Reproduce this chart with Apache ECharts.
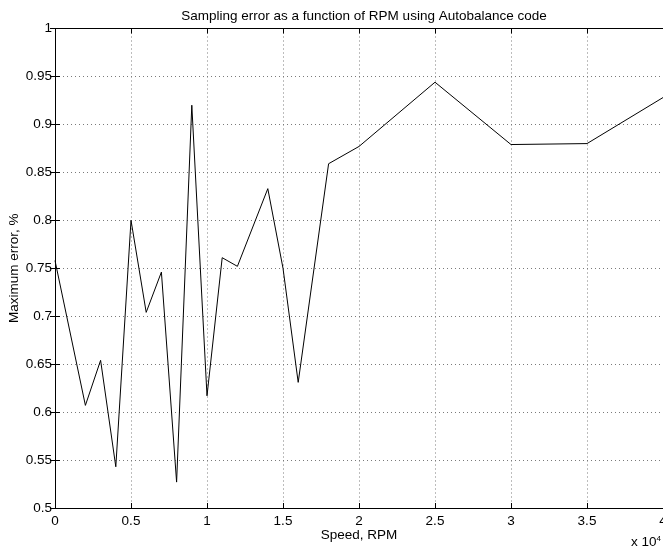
<!DOCTYPE html>
<html>
<head>
<meta charset="utf-8">
<script src="https://cdn.jsdelivr.net/npm/echarts@6/dist/echarts.min.js"></script>
<style>
    html, body {margin: 0; padding: 0; background: #fff;}
    #main {width: 663px; height: 550px;}
</style>
</head>
<body>
<div id="main"></div>
<script>
    // speed in units of 10^4 RPM
    var speeds = [0, 0.2, 0.3, 0.4, 0.5, 0.6, 0.7, 0.8, 0.9, 1.0, 1.1, 1.2, 1.4, 1.5, 1.6, 1.8, 2.0, 2.5, 3.0, 3.5, 4.0];
    // maximum error, %
    var maxError = [0.758, 0.607, 0.654, 0.543, 0.800, 0.704, 0.746, 0.527, 0.920, 0.617, 0.761, 0.752, 0.833, 0.750, 0.631, 0.859, 0.877, 0.944, 0.879, 0.880, 0.928];

    var titleText = 'Sampling error as a function of RPM using Autobalance code';
    var xName = 'Speed, RPM';
    var yName = 'Maximum error, %';

    var font = "'Liberation Sans', Arial, sans-serif";
    var fs = 13.5;

    var points = speeds.map(function (s, i) {
        return [s, maxError[i]];
    });

    var gridDots = {
        show: true,
        lineStyle: {color: '#7a7a7a', width: 1, type: [1, 3]}
    };
    var boxLine = {show: true, lineStyle: {color: '#000', width: 1}};
    var inTick = {show: true, inside: true, length: 5, lineStyle: {color: '#000'}};

    var chart = echarts.init(document.getElementById('main'));
    chart.setOption({
        animation: false,
        backgroundColor: '#fff',
        title: {
            text: titleText,
            left: 359,
            top: 4,
            textAlign: 'center',
            textStyle: {fontFamily: font, fontSize: fs, fontWeight: 'normal', color: '#000'}
        },
        grid: {left: 55, right: 0, top: 28.5, bottom: 42, containLabel: false, outerBoundsMode: 'none'},
        xAxis: [{
            type: 'value',
            min: 0,
            max: 4,
            interval: 0.5,
            name: xName,
            nameLocation: 'middle',
            nameGap: 20,
            nameMoveOverlap: false,
            nameTextStyle: {fontFamily: font, fontSize: fs, color: '#000'},
            axisLine: boxLine,
            axisTick: inTick,
            axisLabel: {fontFamily: font, fontSize: fs, color: '#000', margin: 6},
            splitLine: gridDots
        }, {
            type: 'value',
            position: 'top',
            min: 0,
            max: 4,
            interval: 0.5,
            axisLine: boxLine,
            axisTick: inTick,
            axisLabel: {show: false},
            splitLine: {show: false}
        }],
        yAxis: [{
            type: 'value',
            min: 0.5,
            max: 1,
            interval: 0.05,
            name: yName,
            nameLocation: 'middle',
            nameGap: 34,
            nameMoveOverlap: false,
            nameTextStyle: {fontFamily: font, fontSize: fs, color: '#000'},
            axisLine: boxLine,
            axisTick: inTick,
            axisLabel: {fontFamily: font, fontSize: fs, color: '#000', margin: 3},
            splitLine: gridDots
        }, {
            type: 'value',
            position: 'right',
            min: 0.5,
            max: 1,
            interval: 0.05,
            axisLine: boxLine,
            axisTick: inTick,
            axisLabel: {show: false},
            splitLine: {show: false}
        }],
        graphic: [{
            type: 'text',
            left: 631,
            top: 535,
            style: {
                text: 'x 10{sup|4}',
                fontFamily: font,
                fontSize: fs,
                fill: '#000',
                rich: {sup: {fontSize: 8, verticalAlign: 'top', padding: [0, 0, 7, 0]}}
            }
        }],
        series: [{
            type: 'line',
            data: points,
            symbol: 'none',
            lineStyle: {color: '#000', width: 1},
            z: 3
        }]
    });
</script>
</body>
</html>
